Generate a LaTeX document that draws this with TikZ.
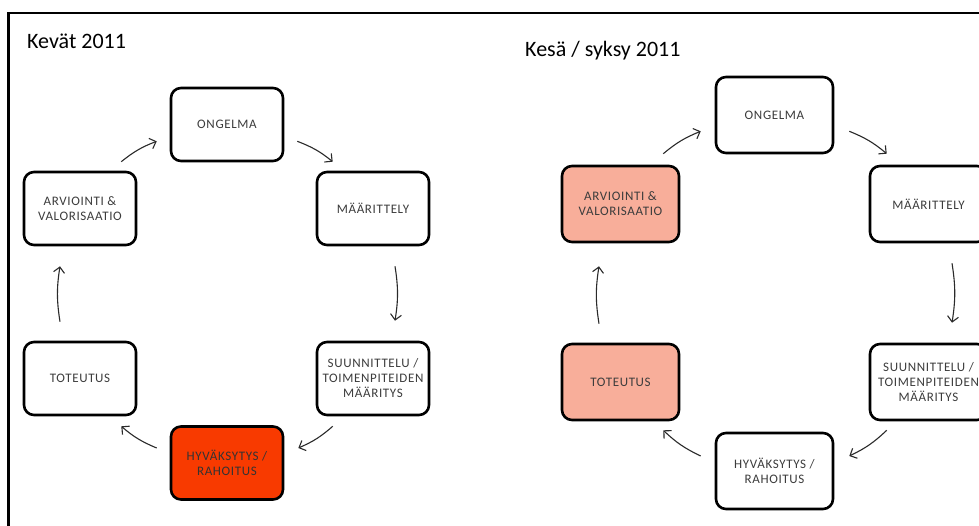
\documentclass[tikz,border=0pt]{standalone}
\usepackage{fontspec}
\setmainfont{Carlito}
\newfontfamily\boxfont[LetterSpace=5]{Carlito}
\usetikzlibrary{arrows.meta}
\definecolor{hotred}{HTML}{F83A00}
\definecolor{softred}{HTML}{F8AE9A}
\definecolor{labelgray}{HTML}{3C3C3C}
\definecolor{arrowgray}{HTML}{2A2A2A}
\tikzset{
  stage/.style={draw=black, line width=2.6pt, rounded corners=10pt, fill=white,
    minimum width=112pt, minimum height=73pt, inner sep=2pt,
    align=center, text=labelgray, font=\boxfont\fontsize{13}{15}\selectfont},
  bigstage/.style={stage, minimum width=117pt, minimum height=76pt},
  flow/.style={draw=arrowgray, line width=1.1pt, bend left=9,
    -{Straight Barb[length=5.5pt,width=11pt,line width=1.1pt]}},
  heading/.style={anchor=base west, inner sep=0pt, text=black,
    font=\fontsize{22}{24}\selectfont}
}
\begin{document}
\begin{tikzpicture}[x=1pt,y=-1pt]
\useasboundingbox (0,0) rectangle (979,526);
\clip (0,0) rectangle (979,526);
\fill[white] (0,0) rectangle (979,526);
% outer frame, running off the right and bottom edges
\draw[line width=2.6pt] (8.5,13) rectangle (1000,560);

% spring cycle
\node[heading] (t1) at (27,49) {Kevät 2011};
\node[stage] (l1) at (227,124.5) {ONGELMA};
\node[stage] (l2) at (373,208.5) {MÄÄRITTELY};
\node[stage] (l3) at (373,378.5) {SUUNNITTELU /\\TOIMENPITEIDEN\\MÄÄRITYS};
\node[stage, fill=hotred, text=black!80] (l4) at (227,463) {HYVÄKSYTYS /\\RAHOITUS};
\node[stage] (l5) at (80,378.5) {TOTEUTUS};
\node[stage] (l6) at (80,208.5) {ARVIOINTI \&\\VALORISAATIO};

\draw[flow] ([shift={(-16,-9)}]l6.north east) to ([shift={(-13,-21)}]l1.south west);
\draw[flow] ([shift={(13,-21)}]l1.south east) to ([shift={(17,-9)}]l2.north west);
\draw[flow] ([shift={(22,20)}]l2.south) to ([shift={(22,-20)}]l3.north);
\draw[flow] ([shift={(17,10)}]l3.south west) to ([shift={(14,-15)}]l4.east);
\draw[flow] ([shift={(-13,-15)}]l4.west) to ([shift={(-16,10)}]l5.south east);
\draw[flow] ([shift={(-20,-19)}]l5.north) to ([shift={(-20,20)}]l6.south);

% summer / autumn cycle
\node[heading] (t2) at (525,57) {Kesä / syksy 2011};
\node[bigstage] (r1) at (774.5,115) {ONGELMA};
\node[bigstage] (r2) at (928.5,204) {MÄÄRITTELY};
\node[bigstage] (r3) at (928.5,382) {SUUNNITTELU /\\TOIMENPITEIDEN\\MÄÄRITYS};
\node[bigstage] (r4) at (774.5,471) {HYVÄKSYTYS /\\RAHOITUS};
\node[bigstage, fill=softred] (r5) at (620.5,382) {TOTEUTUS};
\node[bigstage, fill=softred] (r6) at (620.5,204) {ARVIOINTI \&\\VALORISAATIO};

\draw[flow] ([shift={(-17,-11)}]r6.north east) to ([shift={(-14,-23)}]r1.south west);
\draw[flow] ([shift={(15,-23)}]r1.south east) to ([shift={(18,-11)}]r2.north west);
\draw[flow] ([shift={(23.5,20)}]r2.south) to ([shift={(23.5,-20)}]r3.north);
\draw[flow] ([shift={(18,9)}]r3.south west) to ([shift={(15,-15)}]r4.east);
\draw[flow] ([shift={(-14,-15)}]r4.west) to ([shift={(-17,9)}]r5.south east);
\draw[flow] ([shift={(-21.5,-19)}]r5.north) to ([shift={(-21.5,23)}]r6.south);
\end{tikzpicture}
\end{document}
